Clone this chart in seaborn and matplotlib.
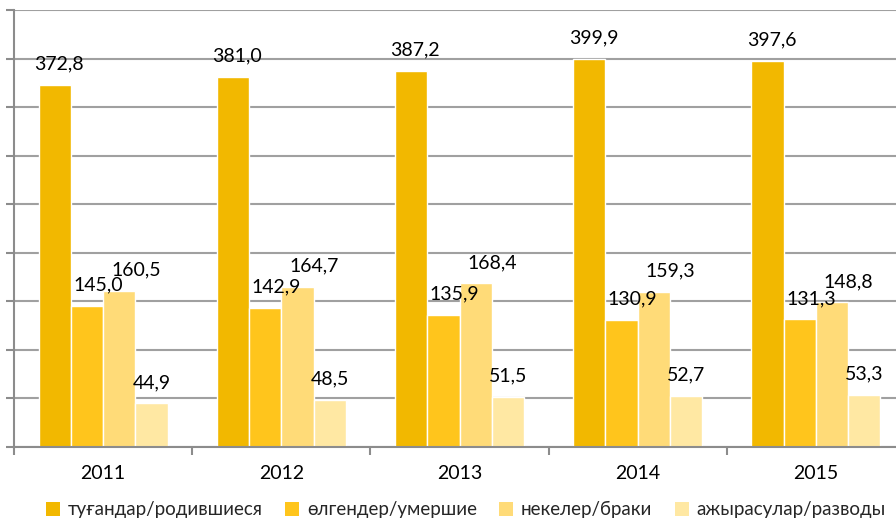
import matplotlib
matplotlib.use("Agg")
import matplotlib.pyplot as plt
import seaborn as sns
import pandas as pd
import numpy as np
from matplotlib.patches import Patch

years = ["2011", "2012", "2013", "2014", "2015"]
series = ["туғандар/родившиеся", "өлгендер/умершие", "некелер/браки", "ажырасулар/разводы"]
births = [372.8, 381.0, 387.2, 399.9, 397.6]
deaths = [145.0, 142.9, 135.9, 130.9, 131.3]
marriages = [160.5, 164.7, 168.4, 159.3, 148.8]
divorces = [44.9, 48.5, 51.5, 52.7, 53.3]
colors = ["#F2B800", "#FFC51C", "#FFDB78", "#FFE8A3"]

df = pd.DataFrame({
    "year": years * 4,
    "series": [s for s in series for _ in years],
    "value": births + deaths + marriages + divorces,
})

sns.set_style("white")
plt.rcParams["font.family"] = ["Lato", "DejaVu Sans"]

fig = plt.figure(figsize=(8.96, 5.24), dpi=100)
ax = fig.add_axes([14 / 896, 1 - 447 / 524, 891 / 896, 437 / 524])

sns.barplot(data=df, x="year", y="value", hue="series", palette=colors,
            width=0.725, gap=0, saturation=1, ax=ax, legend=False)

ax.set_ylim(0, 450)
ax.set_xlim(-0.5, 4.5)
ax.set_yticks(np.arange(0, 451, 50))
ax.set_yticklabels([])
ax.grid(axis="y", color="#A0A0A0", linewidth=1.5)
ax.set_axisbelow(True)
ax.set_xlabel("")
ax.set_ylabel("")

for side in ["top", "right"]:
    ax.spines[side].set_visible(False)
for side in ["left", "bottom"]:
    ax.spines[side].set_color("#8C8C8C")
    ax.spines[side].set_linewidth(1.5)

ax.tick_params(axis="y", length=6, width=1.5, color="#8C8C8C", direction="out", left=True)
ax.set_xticks(np.arange(-0.5, 5, 1), minor=True)
ax.tick_params(axis="x", which="minor", length=6, width=1.5, color="#8C8C8C", bottom=True)
ax.tick_params(axis="x", which="major", length=0, labelsize=14, pad=13, labelcolor="black")

for cont, dx in zip(ax.containers, [3, 8, 12, 0]):
    labels = [f"{v:.1f}".replace(".", ",") for v in cont.datavalues]
    for bar, lab in zip(cont, labels):
        ax.annotate(lab, (bar.get_x() + bar.get_width() / 2, bar.get_height()),
                    xytext=(dx, 9), textcoords="offset points",
                    ha="center", va="bottom", fontsize=14, color="black")

handles = [Patch(facecolor=c, edgecolor="none") for c in colors]
fig.legend(handles, series, loc="center", bbox_to_anchor=(0.52, 0.027), ncol=4,
           frameon=False, fontsize=13.5, handlelength=0.75, handleheight=0.75,
           handletextpad=0.4, columnspacing=1.2)

fig.savefig("out.png", dpi=100)
